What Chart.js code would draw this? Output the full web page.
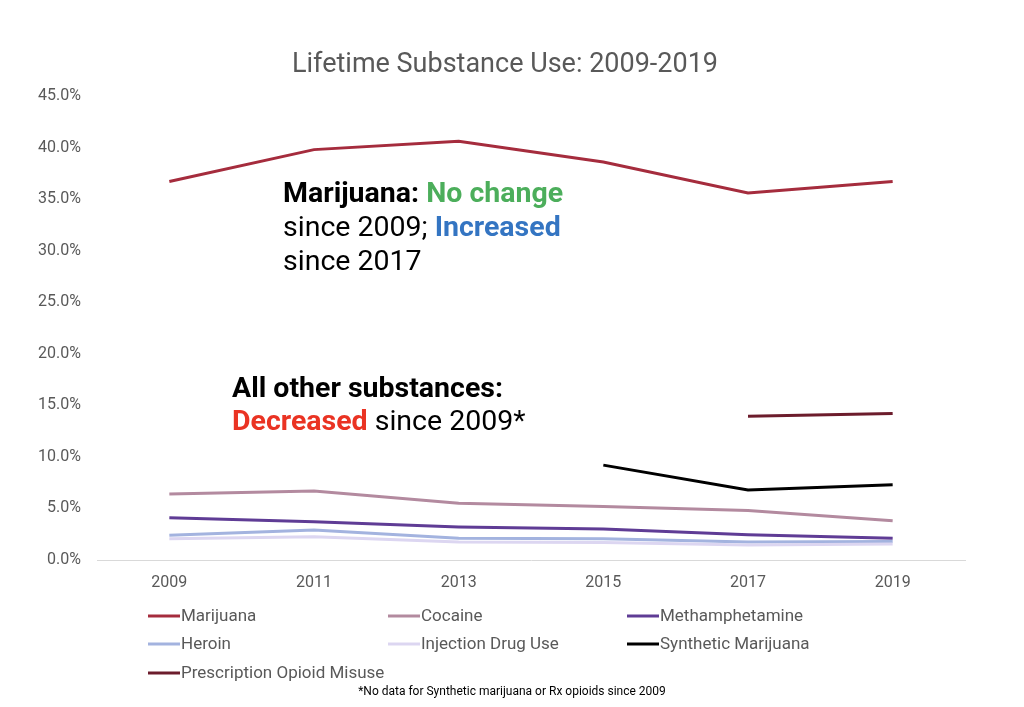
<!DOCTYPE html>
<html>
<head>
<meta charset="utf-8">
<script src="https://cdn.jsdelivr.net/npm/chart.js@4/dist/chart.umd.min.js"></script>
<style>
  html,body{margin:0;padding:0;background:#fff;}
  #wrap{width:1024px;height:707px;position:relative;}
</style>
</head>
<body>
<div id="wrap"><canvas id="c" width="1024" height="707"></canvas></div>
<script>
const years = ['2009','2011','2013','2015','2017','2019'];
const marijuana = [36.7, 39.8, 40.6, 38.6, 35.6, 36.7];
const cocaine = [6.4, 6.7, 5.5, 5.2, 4.8, 3.8];
const methamphetamine = [4.1, 3.7, 3.2, 3.0, 2.45, 2.1];
const heroin = [2.4, 2.9, 2.1, 2.05, 1.75, 1.8];
const injectionDrugUse = [2.05, 2.25, 1.75, 1.7, 1.45, 1.55];
const syntheticMarijuana = [null, null, null, 9.2, 6.8, 7.3];
const rxOpioidMisuse = [null, null, null, null, 13.95, 14.2];
const seriesNames = ['Marijuana','Cocaine','Methamphetamine','Heroin','Injection Drug Use','Synthetic Marijuana','Prescription Opioid Misuse'];
const seriesColors = ['#a52c3d','#b38a9f','#5f3c95','#a3b3df','#dcd6f1','#000000','#6c1c2c'];
const yTicks = [0,5,10,15,20,25,30,35,40,45];

const seriesData = [marijuana, cocaine, methamphetamine, heroin, injectionDrugUse, syntheticMarijuana, rxOpioidMisuse];

const FONT = 'Roboto, "Liberation Sans", sans-serif';

const overlay = {
  id: 'overlay',
  afterDraw(chart) {
    const ctx = chart.ctx;
    ctx.save();
    // Title
    ctx.font = '27px ' + FONT;
    ctx.fillStyle = '#595959';
    ctx.textAlign = 'center';
    ctx.textBaseline = 'alphabetic';
    ctx.fillText('Lifetime Substance Use: 2009-2019', 505, 72);

    // Annotations (mixed runs)
    function runs(x, y, parts) {
      ctx.textAlign = 'left';
      let cx = x;
      for (const p of parts) {
        ctx.font = (p.bold ? 'bold ' : '') + '28.5px ' + FONT;
        ctx.fillStyle = p.color;
        ctx.fillText(p.t, cx, y);
        cx += ctx.measureText(p.t).width;
      }
    }
    runs(283, 202, [{t:'Marijuana: ', bold:true, color:'#000'}, {t:'No change', bold:true, color:'#4cae5b'}]);
    runs(283, 236, [{t:'since 2009; ', color:'#000'}, {t:'Increased', bold:true, color:'#3475c2'}]);
    runs(283, 270, [{t:'since 2017', color:'#000'}]);
    runs(232, 397, [{t:'All other substances:', bold:true, color:'#000'}]);
    runs(232, 430, [{t:'Decreased', bold:true, color:'#ea3323'}, {t:' since 2009*', color:'#000'}]);

    // Legend (3-column grid)
    const colX = [148, 388, 627];
    const rowY = [616, 644, 673];
    ctx.font = '17px ' + FONT;
    ctx.textBaseline = 'middle';
    chart.data.datasets.forEach((ds, i) => {
      const x = colX[i % 3], y = rowY[Math.floor(i / 3)];
      ctx.strokeStyle = ds.borderColor;
      ctx.lineWidth = 3;
      ctx.lineCap = 'butt';
      ctx.beginPath();
      ctx.moveTo(x, y);
      ctx.lineTo(x + 32, y);
      ctx.stroke();
      ctx.fillStyle = '#595959';
      ctx.textAlign = 'left';
      ctx.fillText(ds.label, x + 33, y + 1);
    });

    // Footnote
    ctx.font = '12px ' + FONT;
    ctx.fillStyle = '#000';
    ctx.textAlign = 'center';
    ctx.fillText('*No data for Synthetic marijuana or Rx opioids since 2009', 512, 692);
    ctx.restore();
  }
};

new Chart(document.getElementById('c'), {
  type: 'line',
  data: {
    labels: years,
    datasets: seriesNames.map((name, i) => ({
      label: name,
      data: seriesData[i],
      borderColor: seriesColors[i],
      backgroundColor: seriesColors[i],
      borderWidth: 3,
      pointRadius: 0,
      tension: 0,
      fill: false,
      order: 7 - i
    }))
  },
  options: {
    responsive: false,
    animation: false,
    devicePixelRatio: 1,
    layout: { padding: { left: 0, right: 59, top: 96, bottom: 107 } },
    plugins: {
      legend: { display: false },
      title: { display: false },
      tooltip: { enabled: false }
    },
    scales: {
      x: {
        type: 'category',
        offset: true,
        grid: { display: false, drawTicks: false },
        border: { display: true, color: '#d9d9d9', width: 1 },
        ticks: { color: '#595959', font: { family: FONT, size: 16 }, padding: 13, maxRotation: 0 },
        afterFit(s) { s.height = 40; }
      },
      y: {
        min: 0,
        max: 45,
        afterBuildTicks(s) { s.ticks = yTicks.map(v => ({ value: v })); },
        grid: { display: false, drawTicks: false },
        border: { display: false },
        ticks: {
          color: '#595959',
          font: { family: FONT, size: 16 },
          padding: 16,
          callback: v => Number(v).toFixed(1) + '%'
        },
        afterFit(s) { s.width = 97; }
      }
    }
  },
  plugins: [overlay]
});
</script>
</body>
</html>
